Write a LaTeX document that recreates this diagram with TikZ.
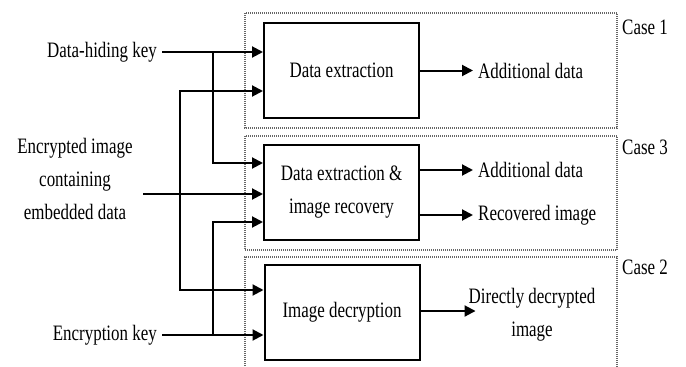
\documentclass[tikz,border=0pt]{standalone}
\usepackage{fontspec}
\setmainfont{Liberation Serif}[FakeStretch=0.77]
\usetikzlibrary{arrows.meta}

\begin{document}
\begin{tikzpicture}[x=1pt,y=-1pt,
  every node/.style={font=\fontsize{22}{33}\selectfont, inner sep=0pt},
  procbox/.style={draw, line width=2pt, minimum width=155pt, minimum height=95pt, align=center},
  casebox/.style={draw=black!60, line width=1.3pt, dash pattern=on 1pt off 1pt},
  flow/.style={line width=2pt, -{Triangle[length=11pt,width=11pt]}}]

\useasboundingbox (0,0) rectangle (686,367);

% Cases
\draw[casebox] (245,13) rectangle (617,128);
\draw[casebox] (245,136) rectangle (617,250);
\draw[casebox] (245,370) -- (245,257) -- (617,257) -- (617,370);
\node[anchor=west] (case1) at (622,27) {Case 1};
\node[anchor=west] (case3) at (622,147) {Case 3};
\node[anchor=west] (case2) at (622,267) {Case 2};

% Nodes
\node[procbox] (extract) at (341.5,70.5) {Data extraction};
\node[procbox] (recover) at (341.5,192) {Data extraction \&\\image recovery};
\node[procbox] (decrypt) at (342,312) {Image decryption};

\node[anchor=east, inner xsep=5pt] (hidekey) at (162,52) {Data-hiding key};
\node[anchor=east, inner xsep=5pt] (enckey) at (162,335) {Encryption key};
\node[align=center] (encimg) at (75,179) {Encrypted image\\containing\\embedded data};

\node[anchor=west, inner xsep=5pt] (adddata1) at (473,70.5) {Additional data};
\node[anchor=west, inner xsep=5pt] (adddata2) at (473,170) {Additional data};
\node[anchor=west, inner xsep=5pt] (recimg) at (473,215) {Recovered image};
\node[align=center] (decimg) at (532,315) {Directly decrypted\\image};

% Junctions
\coordinate (hidej) at (hidekey.east -| 213,0);
\coordinate (encj) at (enckey.east -| 213,0);
\coordinate (imgout) at (143,194);
\coordinate (imgj) at (180,194);

% Edges
\draw[flow] (hidekey.east) -- (extract.west |- hidekey.east);
\draw[flow] (hidej) |- (recover.west |- 0,163);
\draw[flow] (imgout) -- (recover.west |- imgout);
\draw[flow] (imgj) |- (extract.west |- 0,91);
\draw[flow] (imgj) |- (decrypt.west |- 0,290);
\draw[flow] (enckey.east) -- (decrypt.west |- enckey.east);
\draw[flow] (encj) |- (recover.west |- 0,222);

\draw[flow] (extract.east |- adddata1.west) -- (adddata1.west);
\draw[flow] (recover.east |- adddata2.west) -- (adddata2.west);
\draw[flow] (recover.east |- recimg.west) -- (recimg.west);
\draw[flow, shorten >=-7pt] (decrypt.east |- 0,311) -- (decimg.west |- 0,311);

\end{tikzpicture}
\end{document}
